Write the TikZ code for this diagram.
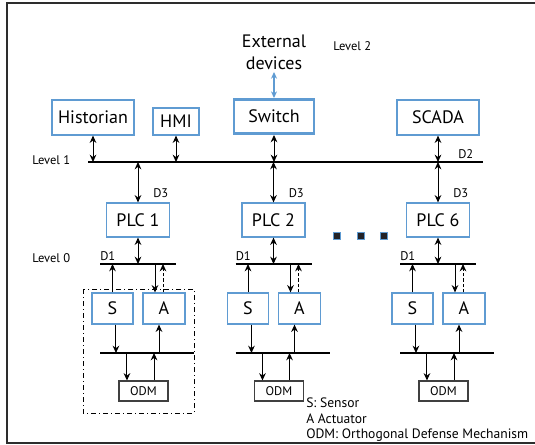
\documentclass[tikz,border=0pt]{standalone}
\usepackage{fontspec}
\setmainfont{PT Sans}
\usetikzlibrary{arrows.meta}

\definecolor{boxblue}{RGB}{95,155,210}
\definecolor{framegray}{RGB}{45,45,45}
\definecolor{dotdark}{RGB}{35,35,40}

\tikzset{
  unit/.style={draw=boxblue, line width=0.9pt, inner sep=0pt, font=\fontsize{13.5}{15}\selectfont},
  odmbox/.style={draw=black!75, line width=0.8pt, inner sep=0pt, minimum width=36.75pt, minimum height=15pt, font=\fontsize{9.4}{10}\selectfont},
  lbl/.style={inner sep=0pt, font=\fontsize{9.4}{10}\selectfont},
  dbl/.style={{Stealth[length=5.5pt,width=5pt]}-{Stealth[length=5.5pt,width=5pt]}, line width=0.75pt},
  sgl/.style={-{Stealth[length=5.5pt,width=5pt]}, line width=0.75pt},
  bus/.style={line width=0.8pt}
}

\begin{document}
\begin{tikzpicture}[x=0.75pt,y=0.75pt,yscale=-1,xscale=1]
\useasboundingbox (0,0) rectangle (535,445);
\clip (0,0) rectangle (535,445);

%Frame
\draw [framegray, line width=1.6pt] (7,3) rectangle (545,443);

% Level 2
\node (ext) [align=center, inner sep=0pt, font=\fontsize{13.5}{16.5}\selectfont] at (274,52) {External\\devices};
\node (lvltwo) [lbl, anchor=west] at (333,46) {Level 2};
\node (sw) [unit, line width=2.2pt, minimum width=60pt, minimum height=25.5pt] at (274,116.5) {Switch};
\draw [{Stealth[length=5pt,width=4.5pt]}-{Stealth[length=5pt,width=4.5pt]}, boxblue, line width=0.8pt] (sw.north) -- (274,72);

% Level 1 devices
\node (hist) [unit, minimum width=61.5pt, minimum height=26.25pt] at (93,117.5) {Historian};
\node (hmi) [unit, minimum width=34.5pt, minimum height=20.25pt] at (176,121.5) {HMI};
\node (scada) [unit, minimum width=61.5pt, minimum height=26.25pt] at (438,117.5) {SCADA};

%Level 1 bus
\coordinate (lvlone) at (88,162);
\coordinate (lvloneend) at (483,162);
\draw [bus] (lvlone) -- (lvloneend);
\node (lvlonetxt) [lbl, anchor=west] at (32,160) {Level 1};
\node (dtwo) [lbl, anchor=west] at (458,154) {D2};

\draw [dbl] (hist.south) -- (hist.south |- lvlone);
\draw [dbl] (hmi.south) -- (hmi.south |- lvlone);
\draw [dbl] (sw.south) -- (sw.south |- lvlone);
\draw [dbl] (scada.south) -- (scada.south |- lvlone);

\node (lvlzero) [lbl, anchor=west] at (32,258) {Level 0};

% PLC groups
\foreach \i/\o in {1/0, 2/135.5, 6/300} {
  \node (plc\i) [unit, minimum width=47.25pt, minimum height=25.5pt] at (138+\o,220) {PLC \i};
  \draw [dbl] (plc\i.north |- lvlone) -- (plc\i.north);
  \node (dthree\i) [lbl, anchor=west] at (153+\o,193) {D3};
  % upper bus
  \coordinate (upl\i) at (100+\o,264);
  \coordinate (upr\i) at (176+\o,264);
  \draw [bus] (upl\i) -- (upr\i);
  \node (done\i) [lbl, anchor=west] at (100+\o,256) {D1};
  \draw [dbl] (plc\i.south) -- (plc\i.south |- upl\i);
  % sensor and actuator
  \node (s\i) [unit, minimum width=30.75pt, minimum height=23.25pt] at (112.5+\o,308.5) {S};
  \node (a\i) [unit, minimum width=31.5pt, minimum height=23.25pt] at (164+\o,308.5) {A};
  \draw [sgl] (s\i.north) -- (s\i.north |- upl\i);
  \draw [sgl] ([xshift=-6.75pt]a\i.north |- upl\i) -- ([xshift=-6.75pt]a\i.north);
  \draw [sgl, dashed, dash pattern=on 2.5pt off 1.5pt] ([xshift=-0.75pt]a\i.north) -- ([xshift=-0.75pt]a\i.north |- upl\i);
  % lower bus
  \coordinate (lol\i) at (100+\o,353);
  \coordinate (lor\i) at (194+\o,353);
  \draw [bus] (lol\i) -- (lor\i);
  \draw [sgl] ([xshift=2.6pt]s\i.south) -- ([xshift=2.6pt]s\i.south |- lol\i);
  \draw [sgl] ([xshift=-3.75pt]a\i.south |- lol\i) -- ([xshift=-3.75pt]a\i.south);
  % defense
  \node (odm\i) [odmbox] at (143.5+\o,391) {ODM};
  \draw [sgl] ([xshift=-12.4pt]odm\i.north |- lol\i) -- ([xshift=-12.4pt]odm\i.north);
  \draw [sgl] ([xshift=7.9pt]odm\i.north) -- ([xshift=7.9pt]odm\i.north |- lol\i);
}

% dash-dot box round group 1
\draw [line width=0.7pt, dash pattern=on 4pt off 2pt on 1pt off 2pt] (83,289) rectangle (194,413);

% dots between PLC 2 and PLC 6
\foreach \x in {337,361,384} {
  \node (dot\x) [draw=boxblue, fill=dotdark, line width=0.8pt, minimum size=5pt, inner sep=0pt] at (\x,236) {};
}

% Legend
\node (legend) [anchor=north west, align=left, inner sep=0pt, font=\fontsize{10.2}{11.6}\selectfont] at (306,398) {S: Sensor\\A Actuator\\ODM: Orthogonal Defense Mechanism};

\end{tikzpicture}
\end{document}
